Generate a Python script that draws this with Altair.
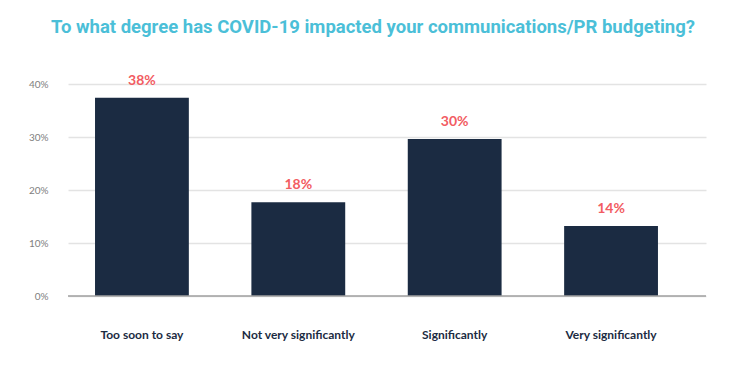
import altair as alt
import pandas as pd

categories = ["Too soon to say", "Not very significantly", "Significantly", "Very significantly"]
bar_values = [37.4, 17.7, 29.6, 13.2]
label_texts = ["38%", "18%", "30%", "14%"]
y_ticks = [0, 10, 20, 30, 40]

df = pd.DataFrame({"cat": categories, "val": bar_values, "lab": label_texts})

x = alt.X("cat:N", sort=categories,
          scale=alt.Scale(paddingInner=0.4, paddingOuter=0.24, align=0.36),
          axis=alt.Axis(title=None, labelAngle=0, ticks=False, domain=False,
                        labelFont="Lato", labelFontWeight="bold", labelFontSize=12,
                        labelColor="#1B2B42", labelPadding=33))
y = alt.Y("val:Q", scale=alt.Scale(domain=[0, 40], nice=False),
          axis=alt.Axis(title=None, values=y_ticks, labelExpr="datum.value + '%'",
                        ticks=False, domain=False, grid=True, gridColor="#E3E3E3",
                        gridWidth=1.5, labelColor="#808080", labelFont="Lato",
                        labelFontSize=10, labelPadding=20))

bars = alt.Chart(df).mark_bar(color="#1B2B42").encode(x=x, y=y)

labels = alt.Chart(df).mark_text(color="#F25C62", font="Lato", fontWeight="bold",
                                 fontSize=14, baseline="bottom", dy=-10).encode(
    x=alt.X("cat:N", sort=categories), y="val:Q", text="lab:N")

baseline = alt.Chart(pd.DataFrame({"z": [0]})).mark_rule(color="#A0A0A0", strokeWidth=1.5).encode(
    y="z:Q")

chart = alt.layer(bars, baseline, labels).properties(
    width=638, height=212,
    autosize=alt.AutoSizeParams(type="none"),
    padding={"left": 60, "top": 76, "right": 28, "bottom": 60},
    title=alt.Title("To what degree has COVID-19 impacted your communications/PR budgeting?",
                    font="Roboto", fontSize=18.5, fontWeight="bold", color="#4BBFD8",
                    anchor="middle", dx=-14, offset=37),
).configure_view(stroke=None)

chart.save("out.html", embed_options={"renderer": "svg", "actions": False})
